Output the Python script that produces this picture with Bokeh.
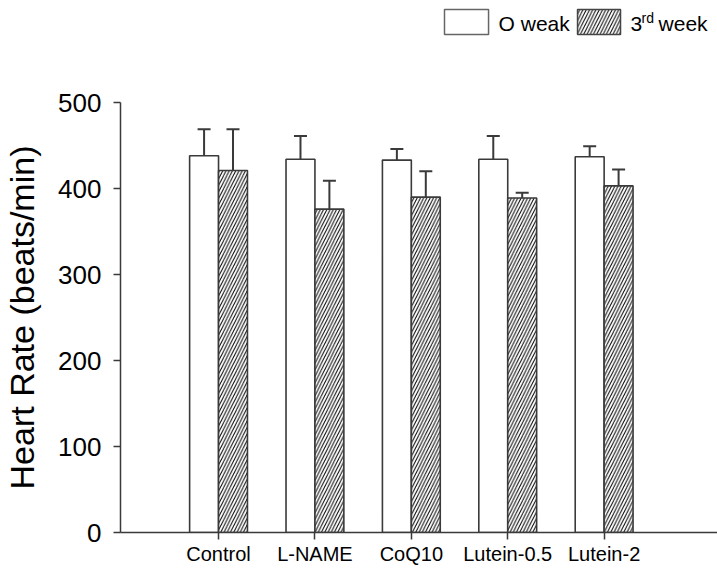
from bokeh.plotting import figure
from bokeh.layouts import column
from bokeh.models import (ColumnDataSource, Range1d, FixedTicker, Whisker, TeeHead, Label)
from bokeh.transform import dodge
from bokeh.embed import file_html
from bokeh.resources import INLINE

# ---- data ----
groups = ["Control", "L-NAME", "CoQ10", "Lutein-0.5", "Lutein-2"]
positions = [1, 2, 3, 4, 5]
week0 = [438, 434, 433, 434, 437]
week0_err = [31, 27, 13, 27, 12]
week3 = [421, 376, 390, 389, 403]
week3_err = [48, 33, 30, 6, 19]
y_ticks = [0, 100, 200, 300, 400, 500]
y_title = "Heart Rate (beats/min)"

FONT = "Liberation Sans"
DARK = "#3a3a3a"
HATCH = dict(hatch_pattern="/", hatch_color="black", hatch_scale=6.5, hatch_weight=1)

src = ColumnDataSource(dict(
    x=positions,
    w0=week0, w0_up=[v + e for v, e in zip(week0, week0_err)],
    w3=week3, w3_up=[v + e for v, e in zip(week3, week3_err)],
))

xr = Range1d(-0.017, 6.176)

p = figure(width=717, height=526, output_backend="svg", toolbar_location=None,
           x_range=xr, y_range=Range1d(0, 500),
           min_border_left=120, min_border_right=0, min_border_top=57,
           min_border_bottom=39)

p.vbar(x=dodge("x", -0.15, range=xr), top="w0", width=0.3, source=src,
       fill_color="white", line_color=DARK, line_width=1.6)
p.vbar(x=dodge("x", 0.15, range=xr), top="w3", width=0.3, source=src,
       fill_color="white", line_color=DARK, line_width=1.6, **HATCH)

for off, lo, up in [(-0.15, "w0", "w0_up"), (0.15, "w3", "w3_up")]:
    wk = Whisker(base=dodge("x", off, range=xr), lower=lo, upper=up, source=src,
                 line_color=DARK, line_width=2, lower_head=None,
                 upper_head=TeeHead(size=13, line_color=DARK, line_width=2))
    p.add_layout(wk)

p.grid.visible = False
p.outline_line_color = None
p.background_fill_color = "white"

# axes
p.xaxis.ticker = FixedTicker(ticks=positions)
p.xaxis.major_label_overrides = {x: g for x, g in zip(positions, groups)}
p.xaxis.minor_tick_line_color = None
p.xaxis.major_tick_in = 0
p.xaxis.major_tick_out = 7
p.xaxis.major_label_standoff = 3
p.xaxis.major_label_text_font = FONT
p.xaxis.major_label_text_font_size = "20px"
p.xaxis.major_label_text_color = "black"

p.yaxis.ticker = FixedTicker(ticks=y_ticks)
p.yaxis.minor_tick_line_color = None
p.yaxis.major_tick_in = 0
p.yaxis.major_tick_out = 7
p.yaxis.major_label_standoff = 12
p.yaxis.major_label_text_font = FONT
p.yaxis.major_label_text_font_size = "26px"
p.yaxis.major_label_text_color = "black"
p.yaxis.axis_label = y_title
p.yaxis.axis_label_text_font = FONT
p.yaxis.axis_label_text_font_size = "34px"
p.yaxis.axis_label_text_font_style = "normal"
p.yaxis.axis_label_text_color = "black"
p.yaxis.axis_label_standoff = 14

for ax in (p.xaxis, p.yaxis):
    ax.axis_line_color = DARK
    ax.axis_line_width = 1.5
    ax.major_tick_line_color = DARK
    ax.major_tick_line_width = 1.5

# ---- legend strip above the plot ----
lg = figure(width=717, height=45, output_backend="svg", toolbar_location=None,
            x_range=xr, y_range=Range1d(0, 45), x_axis_type=None, y_axis_type=None,
            min_border_left=120, min_border_right=0, min_border_top=0,
            min_border_bottom=0)
lg.grid.visible = False
lg.outline_line_color = None
lg.quad(left=[3.344], right=[3.801], bottom=[11], top=[36],
        fill_color="white", line_color="#666666", line_width=1.5)
lg.quad(left=[4.724], right=[5.170], bottom=[11], top=[36],
        fill_color="white", line_color="#444444", line_width=1.5, **HATCH)
for txt, x, y, size in [("O weak", 3.905, 22, "21px"), ("3", 5.274, 22, "21px"),
                        ("rd", 5.388, 28, "14px"), ("week", 5.565, 22, "21px")]:
    lg.add_layout(Label(x=x, y=y, text=txt, text_font=FONT, text_font_size=size,
                        text_color="black", text_baseline="middle", text_align="left"))

layout = column(lg, p, spacing=0)
open("out.html", "w").write(file_html(layout, INLINE))
